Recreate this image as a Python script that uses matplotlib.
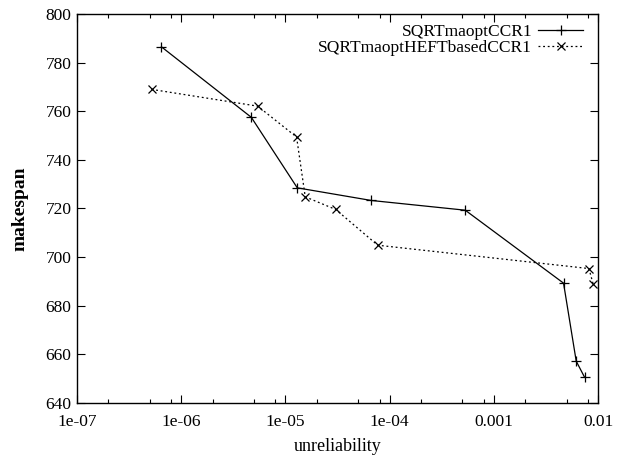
import matplotlib
matplotlib.use('Agg')
import matplotlib.pyplot as plt
from matplotlib.ticker import LogLocator, FixedLocator, NullFormatter

# Data
ccr1_unrel = [6.46e-7, 4.71e-6, 1.30e-5, 6.68e-5, 5.32e-4, 4.67e-3, 6.18e-3, 7.43e-3]
ccr1_makespan = [786.5, 757.5, 728.5, 723.3, 719.3, 689.3, 657.2, 650.6]

heft_unrel = [5.19e-7, 5.42e-6, 1.28e-5, 1.55e-5, 3.04e-5, 7.69e-5, 8.18e-3, 9.0e-3]
heft_makespan = [769.0, 762.1, 749.4, 724.8, 719.6, 704.9, 695.3, 688.8]

xticks = [1e-7, 1e-6, 1e-5, 1e-4, 1e-3, 1e-2]
xticklabels = ['1e-07', '1e-06', '1e-05', '1e-04', '0.001', '0.01']
yticks = [640, 660, 680, 700, 720, 740, 760, 780, 800]

plt.rcParams['font.family'] = ['Liberation Serif', 'DejaVu Serif']
plt.rcParams['font.size'] = 12.5

fig = plt.figure(figsize=(6.23, 4.62), dpi=100)
ax = fig.add_axes([77 / 623, 1 - 403 / 462, (598 - 77) / 623, (403 - 14) / 462])

ax.plot(ccr1_unrel, ccr1_makespan, color='black', linewidth=0.9,
        marker='+', markersize=7, markeredgewidth=0.9, label='SQRTmaoptCCR1')
ax.plot(heft_unrel, heft_makespan, color='black', linewidth=0.9,
        linestyle=(0, (1.5, 2.2)), marker='x', markersize=6, markeredgewidth=0.9,
        label='SQRTmaoptHEFTbasedCCR1')

ax.set_xscale('log')
ax.set_xlim(1e-7, 1e-2)
ax.set_ylim(640, 800)
ax.xaxis.set_major_locator(FixedLocator(xticks))
ax.set_xticklabels(xticklabels)
ax.xaxis.set_minor_locator(LogLocator(base=10, subs=[2, 5, 8]))
ax.xaxis.set_minor_formatter(NullFormatter())
ax.set_yticks(yticks)

ax.tick_params(which='both', direction='in', top=True, right=True, width=0.8)
ax.tick_params(which='major', length=5.5)
ax.tick_params(axis='x', which='major', pad=8)
ax.tick_params(axis='y', which='major', pad=4)
ax.tick_params(which='minor', length=3)
for s in ax.spines.values():
    s.set_linewidth(1.0)

ax.set_xlabel('unreliability', labelpad=6, fontsize=13)
ax.set_ylabel('makespan', fontweight='bold', fontsize=14, labelpad=12)

ax.legend(loc='upper right', bbox_to_anchor=(0.99, 1.0), frameon=False,
          markerfirst=False, numpoints=1, handlelength=2.6, handletextpad=0.35,
          labelspacing=0.0, borderaxespad=0.15, fontsize=12.5)

fig.savefig('out.png', dpi=100)
